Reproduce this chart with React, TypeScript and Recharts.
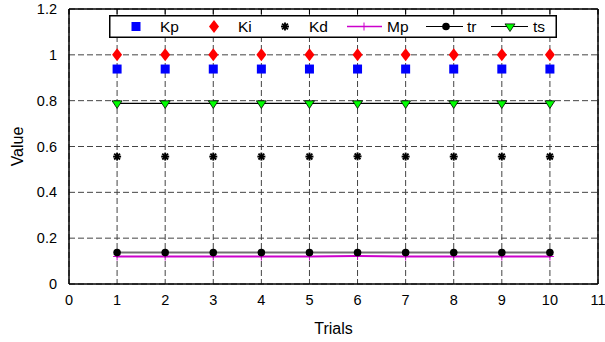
import { ComposedChart, Line, XAxis, YAxis, CartesianGrid, Legend } from 'recharts'

const trials = [1, 2, 3, 4, 5, 6, 7, 8, 9, 10]
const kpValues = [0.938, 0.938, 0.938, 0.938, 0.938, 0.938, 0.938, 0.938, 0.938, 0.938]
const kiValues = [1, 1, 1, 1, 1, 1, 1, 1, 1, 1]
const kdValues = [0.556, 0.556, 0.556, 0.556, 0.556, 0.557, 0.556, 0.556, 0.556, 0.556]
const mpValues = [0.12, 0.12, 0.12, 0.12, 0.12, 0.122, 0.12, 0.12, 0.12, 0.12]
const trValues = [0.137, 0.137, 0.137, 0.137, 0.137, 0.137, 0.137, 0.137, 0.137, 0.137]
const tsValues = [0.788, 0.788, 0.788, 0.788, 0.788, 0.788, 0.788, 0.788, 0.788, 0.788]
const xTicks = [0, 1, 2, 3, 4, 5, 6, 7, 8, 9, 10, 11]
const yTicks = [0, 0.2, 0.4, 0.6, 0.8, 1, 1.2]

const data = trials.map((t, i) => ({
    trial: t,
    kp: kpValues[i],
    ki: kiValues[i],
    kd: kdValues[i],
    mp: mpValues[i],
    tr: trValues[i],
    ts: tsValues[i],
}))

const font = 'Liberation Sans, Arial, sans-serif'

// marker shapes
const Square = ({ cx, cy }: any) => <rect x={cx - 4.5} y={cy - 4.5} width={9} height={9} fill="#0000ff" />
const Diamond = ({ cx, cy }: any) => (
    <polygon points={`${cx},${cy - 6.5} ${cx + 5},${cy} ${cx},${cy + 6.5} ${cx - 5},${cy}`} fill="#ff0000" />
)
const Star = ({ cx, cy }: any) => (
    <g stroke="#000" strokeWidth={1.9}>
        <line x1={cx - 4} y1={cy} x2={cx + 4} y2={cy} />
        <line x1={cx} y1={cy - 4} x2={cx} y2={cy + 4} />
        <line x1={cx - 2.9} y1={cy - 2.9} x2={cx + 2.9} y2={cy + 2.9} />
        <line x1={cx - 2.9} y1={cy + 2.9} x2={cx + 2.9} y2={cy - 2.9} />
    </g>
)
const Plus = ({ cx, cy }: any) => (
    <g stroke="#cc00cc" strokeWidth={1}>
        <line x1={cx - 4} y1={cy} x2={cx + 4} y2={cy} />
        <line x1={cx} y1={cy - 4} x2={cx} y2={cy + 4} />
    </g>
)
const Dot = ({ cx, cy }: any) => <circle cx={cx} cy={cy} r={3.8} fill="#000" />
const TriDown = ({ cx, cy }: any) => (
    <polygon
        points={`${cx - 5},${cy - 2.6} ${cx + 5},${cy - 2.6} ${cx},${cy + 5}`}
        fill="#00ff00"
        stroke="#000"
        strokeWidth={0.8}
    />
)

const dotOf = (Shape: any, name: string) => (p: any) => <Shape key={`${name}-${p.index}`} cx={p.cx} cy={p.cy} />

function LegendBox() {
    const ty = 16.5
    const txt = { fontFamily: font, fontSize: 15.5, fill: '#000' }
    return (
        <svg width={448} height={23} style={{ display: 'block' }}>
            <rect x={0.75} y={0.75} width={446.5} height={21.5} fill="#fff" stroke="#000" strokeWidth={1.5} />
            <Square cx={27} cy={11.5} />
            <text x={51} y={ty} {...txt}>Kp</text>
            <Diamond cx={105} cy={11.5} />
            <text x={129} y={ty} {...txt}>Ki</text>
            <Star cx={176} cy={11.5} />
            <text x={200} y={ty} {...txt}>Kd</text>
            <line x1={238} y1={11.5} x2={273} y2={11.5} stroke="#cc00cc" strokeWidth={1.5} />
            <Plus cx={255} cy={11.5} />
            <text x={278} y={ty} {...txt}>Mp</text>
            <line x1={317} y1={11.5} x2={354} y2={11.5} stroke="#000" strokeWidth={1} />
            <Dot cx={337} cy={11.5} />
            <text x={358} y={ty} {...txt}>tr</text>
            <line x1={382} y1={11.5} x2={419} y2={11.5} stroke="#000" strokeWidth={1} />
            <TriDown cx={401} cy={11.5} />
            <text x={424} y={ty} {...txt}>ts</text>
        </svg>
    )
}

export default function App() {
    const tick = { fill: '#000', fontSize: 14.5, fontFamily: font }
    const titleStyle = { fontSize: 16, fontFamily: font, fill: '#000' }
    return (
        <div style={{ position: 'fixed', left: 0, top: 0, width: 605, height: 342, background: '#fff' }}>
            <ComposedChart width={605} height={342} data={data} margin={{ top: 9, right: 7, bottom: 0, left: 0 }}>
                <CartesianGrid stroke="#444" strokeDasharray="6 3" />
                <XAxis
                    dataKey="trial"
                    type="number"
                    domain={[0, 11]}
                    ticks={xTicks}
                    tickLine={false}
                    tickMargin={5}
                    height={58}
                    axisLine={{ stroke: '#000', strokeWidth: 1.5 }}
                    tick={tick}
                    label={{ value: 'Trials', position: 'insideBottom', offset: 8, style: titleStyle }}
                />
                <XAxis
                    xAxisId="top"
                    dataKey="trial"
                    type="number"
                    orientation="top"
                    mirror
                    domain={[0, 11]}
                    ticks={xTicks}
                    tickSize={5}
                    tickFormatter={() => ''}
                    axisLine={{ stroke: '#000', strokeWidth: 1.5 }}
                    tickLine={{ stroke: '#000' }}
                />
                <YAxis
                    type="number"
                    domain={[0, 1.2]}
                    ticks={yTicks}
                    width={69}
                    tickLine={false}
                    tickMargin={6}
                    axisLine={{ stroke: '#000', strokeWidth: 1.5 }}
                    tick={tick}
                    label={{
                        value: 'Value',
                        angle: -90,
                        position: 'insideLeft',
                        offset: 17,
                        style: { ...titleStyle, textAnchor: 'middle' },
                    }}
                />
                <YAxis
                    yAxisId="right"
                    type="number"
                    orientation="right"
                    mirror
                    domain={[0, 1.2]}
                    ticks={yTicks}
                    tickSize={5}
                    tickFormatter={() => ''}
                    axisLine={{ stroke: '#000', strokeWidth: 1.5 }}
                    tickLine={{ stroke: '#000' }}
                />
                <Legend
                    verticalAlign="middle"
                    align="center"
                    layout="horizontal"
                    wrapperStyle={{ position: 'absolute', top: 15, left: 109, width: 448, height: 23 }}
                    content={() => <LegendBox />}
                />
                <Line dataKey="mp" name="Mp" stroke="#cc00cc" strokeWidth={2} dot={dotOf(Plus, 'mp')} isAnimationActive={false} />
                <Line dataKey="tr" name="tr" stroke="#707070" strokeWidth={2} dot={dotOf(Dot, 'tr')} isAnimationActive={false} />
                <Line dataKey="ts" name="ts" stroke="#000" strokeWidth={1.2} dot={dotOf(TriDown, 'ts')} isAnimationActive={false} />
                <Line dataKey="kp" name="Kp" stroke="none" dot={dotOf(Square, 'kp')} isAnimationActive={false} />
                <Line dataKey="ki" name="Ki" stroke="none" dot={dotOf(Diamond, 'ki')} isAnimationActive={false} />
                <Line dataKey="kd" name="Kd" stroke="none" dot={dotOf(Star, 'kd')} isAnimationActive={false} />
            </ComposedChart>
        </div>
    )
}
